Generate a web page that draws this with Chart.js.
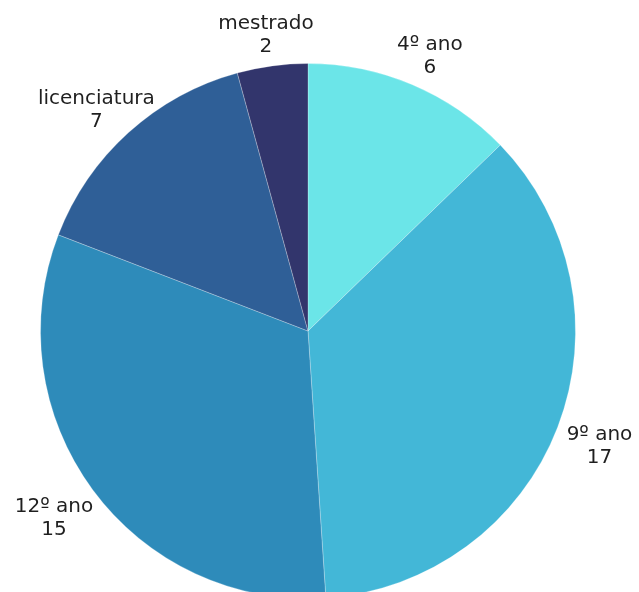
<!DOCTYPE html>
<html lang="pt">
<head>
    <meta charset="UTF-8">
    <title>Escolaridade</title>
    <style>
        html, body { margin: 0; padding: 0; background: #fff; overflow: hidden; }
        #wrap { width: 639px; height: 592px; overflow: hidden; }
    </style>
</head>
<body>
    <div id="wrap">
        <canvas id="pieChart" width="639" height="620"></canvas>
    </div>
    <script src="https://cdn.jsdelivr.net/npm/chart.js@4.4.1/dist/chart.umd.min.js"></script>
    <script type="text/javascript">
        const labels = ['4º ano', '9º ano', '12º ano', 'licenciatura', 'mestrado'];
        const values = [6, 17, 15, 7, 2];
        const colors = ['#6be5e8', '#43b7d7', '#2e8bba', '#2f5f97', '#32356c'];

        const fontSize = 20;
        const lineHeight = 23;

        // draws "name / value" outside each slice
        const outsideLabels = {
            id: 'outsideLabels',
            afterDatasetsDraw(chart) {
                const ctx = chart.ctx;
                const meta = chart.getDatasetMeta(0);
                ctx.save();
                ctx.font = fontSize + 'px "DejaVu Sans"';
                ctx.fillStyle = '#1f1f1f';
                ctx.textAlign = 'center';
                ctx.textBaseline = 'middle';
                meta.data.forEach((arc, i) => {
                    const mid = (arc.startAngle + arc.endAngle) / 2;
                    const dx = Math.cos(mid);
                    const dy = Math.sin(mid);
                    const lines = [labels[i], String(values[i])];
                    const w = Math.max(...lines.map(l => ctx.measureText(l).width));
                    const h = lines.length * lineHeight;
                    const r0 = arc.outerRadius + 12;
                    const cx = arc.x + dx * r0 + dx * Math.min(w / 2, 36);
                    const cy = arc.y + dy * r0 + dy * h / 2 + 4 + 6 * Math.max(dy, 0);
                    ctx.fillText(lines[0], cx, cy - lineHeight / 2);
                    ctx.fillText(lines[1], cx, cy + lineHeight / 2);
                });
                ctx.restore();
            }
        };

        const ctx = document.getElementById('pieChart');

        new Chart(ctx, {
            type: 'pie',
            data: {
                labels: labels,
                datasets: [{
                    data: values,
                    backgroundColor: colors,
                    borderColor: 'rgba(255, 255, 255, 0.25)',
                    borderWidth: 1
                }]
            },
            options: {
                responsive: false,
                animation: false,
                layout: {
                    padding: { left: 40, right: 63, top: 63, bottom: 21 }
                },
                plugins: {
                    legend: { display: false },
                    tooltip: { enabled: false }
                }
            },
            plugins: [outsideLabels]
        });
    </script>
</body>
</html>
